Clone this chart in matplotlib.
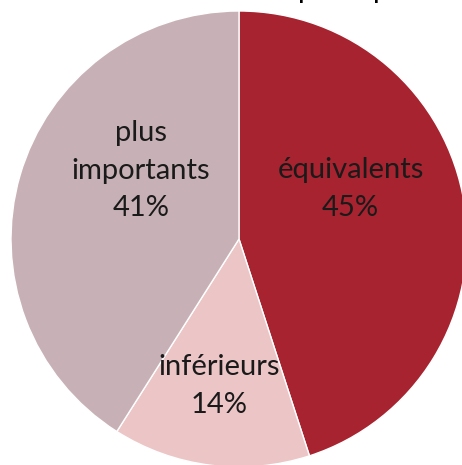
import matplotlib.pyplot as plt

labels = ["équivalents", "inférieurs", "plus\nimportants"]
shares = [45, 14, 41]
colors = ["#A6232F", "#ECC6C7", "#C7B1B6"]
label_pos = [(0.49, 0.22), (-0.085, -0.645), (-0.43, 0.30)]

plt.rcParams['font.family'] = ['Lato', 'DejaVu Sans']

fig = plt.figure(figsize=(4.62, 4.65), dpi=100)
ax = fig.add_axes([11 / 462, -2 / 465, 456 / 462, 456 / 465])

wedges, _ = ax.pie(shares, colors=colors, startangle=90, counterclock=False,
                   radius=1, wedgeprops=dict(edgecolor="white", linewidth=1))

for lab, val, (x, y) in zip(labels, shares, label_pos):
    ax.text(x, y, f"{lab}\n{val}%", ha="center", va="center",
            fontsize=21, linespacing=1.55, color="#1a1a1a")

ax.set_xlim(-1, 1)
ax.set_ylim(-1, 1)
ax.axis("off")

# bottom of the title, cut off by the top edge
for xp in [298, 373]:
    fig.text(xp / 462, 1 + 2 / 465, "p", ha="left", va="baseline",
             fontsize=21, color="black")

fig.savefig("out.png", dpi=100)
